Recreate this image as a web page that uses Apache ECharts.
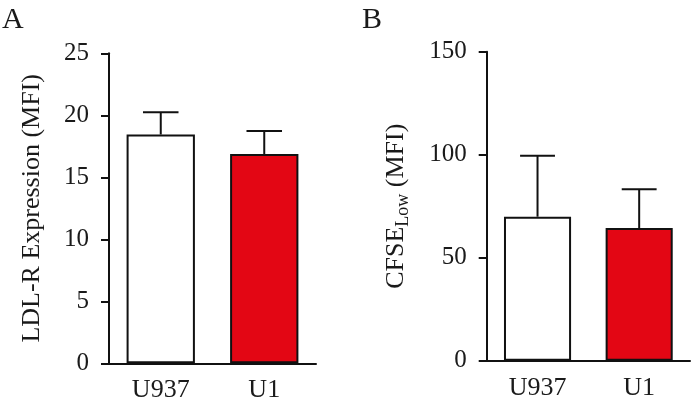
<!DOCTYPE html>
<html><head><meta charset="utf-8">
<script src="https://cdn.jsdelivr.net/npm/echarts@6/dist/echarts.min.js"></script>
<style>html,body{margin:0;padding:0;background:#fff}#c{width:692px;height:408px}</style>
</head><body><div id="c"></div>
<script>
const categories = ['U937', 'U1'];
const ldlMean = [18.45, 16.88];
const ldlErr = [1.8, 1.85];
const cfseMean = [69.9, 64.4];
const cfseErr = [29.6, 18.8];
const ldlTicks = {min: 0, max: 25, interval: 5};
const cfseTicks = {min: 0, max: 150, interval: 50};
const barColors = ['#ffffff', '#e30614'];

const FONT = '"Liberation Serif", "Times New Roman", serif';
const TXT = '#1a1a1a';
const chart = echarts.init(document.getElementById('c'), null, {renderer: 'canvas'});

function errSeries(idx, means, errs) {
  return {
    type: 'custom', xAxisIndex: idx, yAxisIndex: idx, z: 5,
    data: means.map((m, i) => [i, m, m + errs[i]]),
    renderItem: function (params, api) {
      const x = api.value(0);
      const p0 = api.coord([x, api.value(1)]);
      const p1 = api.coord([x, api.value(2)]);
      const bw = api.size([1, 0])[0];
      const half = bw * 0.66 * 0.26;
      const st = {stroke: '#111', lineWidth: 2};
      return {type: 'group', children: [
        {type: 'line', shape: {x1: p0[0], y1: p0[1], x2: p1[0], y2: p1[1]}, style: st},
        {type: 'line', shape: {x1: p1[0] - half, y1: p1[1], x2: p1[0] + half, y2: p1[1]}, style: st}
      ]};
    }
  };
}

function xAxis(idx) {
  return {
    type: 'category', gridIndex: idx, data: categories, boundaryGap: true,
    axisLine: {lineStyle: {color: '#111', width: 2}},
    axisTick: {alignWithLabel: true, length: 8, lineStyle: {color: '#111', width: 2}},
    axisLabel: {fontFamily: FONT, fontSize: 26, color: TXT, margin: 14}
  };
}
function yAxis(idx, t, name, gap, rich) {
  const a = {
    type: 'value', gridIndex: idx, min: t.min, max: t.max, interval: t.interval,
    name: name, nameLocation: 'middle', nameGap: gap, nameRotate: 90,
    nameTextStyle: {fontFamily: FONT, fontSize: 26, color: TXT},
    splitLine: {show: false},
    axisLine: {show: true, lineStyle: {color: '#111', width: 2}},
    axisTick: {show: true, length: 8, lineStyle: {color: '#111', width: 2}},
    axisLabel: {fontFamily: FONT, fontSize: 25, color: TXT, margin: 20}
  };
  if (rich) a.nameTextStyle.rich = rich;
  return a;
}

const option = {
  backgroundColor: '#ffffff',
  animation: false,
  title: [
    {text: 'A', left: -3, top: 0, textStyle: {fontFamily: FONT, fontSize: 30, fontWeight: 'normal', color: TXT}},
    {text: 'B', left: 357, top: 0, textStyle: {fontFamily: FONT, fontSize: 30, fontWeight: 'normal', color: TXT}}
  ],
  grid: [
    {left: 109, right: 376, top: 53.3, bottom: 44.7},
    {left: 486.7, right: 2, top: 51.7, bottom: 47.3}
  ],
  xAxis: [xAxis(0), xAxis(1)],
  yAxis: [
    yAxis(0, ldlTicks, 'LDL-R Expression (MFI)', 64),
    yAxis(1, cfseTicks, '{a|CFSE}{s|Low}{a| (MFI)}', 78, {
      a: {fontFamily: FONT, fontSize: 26, color: TXT, lineHeight: 26, verticalAlign: 'top'},
      s: {fontFamily: FONT, fontSize: 18, color: TXT, lineHeight: 18, verticalAlign: 'top', padding: [12, 0, 0, 0]}
    })
  ],
  series: [
    {type: 'bar', xAxisIndex: 0, yAxisIndex: 0, barWidth: '66%',
     data: ldlMean.map((v, i) => ({value: v, itemStyle: {color: barColors[i]}})),
     itemStyle: {borderColor: '#111', borderWidth: 2}},
    errSeries(0, ldlMean, ldlErr),
    {type: 'bar', xAxisIndex: 1, yAxisIndex: 1, barWidth: '66%',
     data: cfseMean.map((v, i) => ({value: v, itemStyle: {color: barColors[i]}})),
     itemStyle: {borderColor: '#111', borderWidth: 2}},
    errSeries(1, cfseMean, cfseErr)
  ]
};
chart.setOption(option);
</script>
</body></html>
